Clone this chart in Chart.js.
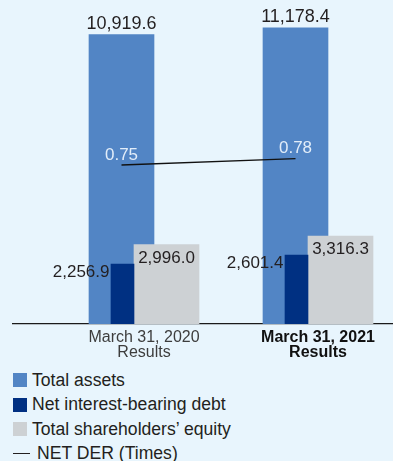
<!DOCTYPE html>
<html>
<head>
<meta charset="utf-8">
<script src="https://cdn.jsdelivr.net/npm/chart.js@4.4.1/dist/chart.umd.min.js"></script>
<style>
  html, body { margin: 0; padding: 0; background: #e8f5fd; }
  #wrap { position: relative; width: 393px; height: 461px; overflow: hidden; background: #e8f5fd;
          font-family: "Liberation Sans", Arial, Helvetica, sans-serif; color: #231f20; }
  #c { position: absolute; left: 0; top: 0; }
  #legend { position: absolute; left: 13px; top: 373px; }
  .row { position: relative; height: 14px; margin-bottom: 10.5px; white-space: nowrap; }
  .sw { position: absolute; left: 0; top: 0; width: 14px; height: 14px; }
  .ln { position: absolute; left: 0; top: 6px; width: 17px; height: 0; border-top: 1.3px solid #231f20; }
  .tx { position: absolute; left: 19px; top: -2.5px; font-size: 17.6px; line-height: 19px; }
  .row.line .tx { left: 24px; }
</style>
</head>
<body>
<div id="wrap">
  <canvas id="c" width="393" height="364" style="width:393px;height:364px"></canvas>
  <div id="legend"></div>
</div>
<script>
// Balance sheet figures (billions of yen) and the net debt-to-equity ratio
const categories = [['March 31, 2020', 'Results'], ['March 31, 2021', 'Results']];
const totalAssets = [10919.6, 11178.4];
const netDebt = [2256.9, 2601.4];
const shareholdersEquity = [2996.0, 3316.3];
const netDer = [0.75, 0.78];

const seriesNames = ['Total assets', 'Net interest-bearing debt', 'Total shareholders\u2019 equity', 'NET DER (Times)'];
const COLORS = { assets: '#5285c5', debt: '#003082', equity: '#cdd1d4', der: '#111111', text: '#231f20' };
const FONT = '"Liberation Sans", Arial, Helvetica, sans-serif';

// Horizontal layout: one unit on the x scale is the spacing between the two periods.
const UNIT_PX = 174;                 // pixels per period
const WIDE_BAR = 65, NARROW_BAR = 23, DEBT_INSET = 22;
const CLUSTER = DEBT_INSET + NARROW_BAR + WIDE_BAR;   // total width of one period's bars
const X_MIN = -131 / UNIT_PX, X_MAX = 249 / UNIT_PX;
const offAssets = (-CLUSTER / 2 + WIDE_BAR / 2) / UNIT_PX;
const offDebt = (-CLUSTER / 2 + DEBT_INSET + NARROW_BAR / 2) / UNIT_PX;
const offEquity = (CLUSTER / 2 - WIDE_BAR / 2) / UNIT_PX;

const at = (vals, off) => vals.map((v, i) => ({ x: i + off, y: v }));

const fmtAmount = v => v.toLocaleString('en-US', { minimumFractionDigits: 1, maximumFractionDigits: 1 });

// Draws the figures next to each bar and above each ratio point
const valueLabels = {
  id: 'valueLabels',
  afterDatasetsDraw(chart) {
    const ctx = chart.ctx;
    ctx.save();
    chart.data.datasets.forEach((ds, di) => {
      const meta = chart.getDatasetMeta(di);
      meta.data.forEach((el, i) => {
        const v = ds.data[i].y;
        ctx.textBaseline = 'alphabetic';
        ctx.fillStyle = COLORS.text;
        if (ds.labelAt === 'above') {
          ctx.font = '18px ' + FONT;
          ctx.textAlign = 'center';
          ctx.fillText(fmtAmount(v), el.x, el.y - 5.5);
        } else if (ds.labelAt === 'left') {
          ctx.font = '17px ' + FONT;
          ctx.textAlign = 'right';
          ctx.fillText(fmtAmount(v), el.x - el.width / 2 - 1.5, el.y + 13);
        } else if (ds.labelAt === 'inside') {
          ctx.font = '17px ' + FONT;
          ctx.textAlign = 'center';
          ctx.fillText(fmtAmount(v), el.x, el.y + 18);
        } else if (ds.labelAt === 'point') {
          ctx.font = '17px ' + FONT;
          ctx.textAlign = 'center';
          ctx.fillStyle = '#e2edf9';
          ctx.fillText(v.toFixed(2), el.x, el.y - 5.5);
        }
      });
    });
    ctx.restore();
  }
};

const chart = new Chart(document.getElementById('c'), {
  type: 'bar',
  data: {
    datasets: [
      { type: 'bar', label: seriesNames[0], data: at(totalAssets, offAssets), backgroundColor: COLORS.assets,
        barThickness: WIDE_BAR, grouped: false, order: 3, yAxisID: 'y', labelAt: 'above' },
      { type: 'bar', label: seriesNames[1], data: at(netDebt, offDebt), backgroundColor: COLORS.debt,
        barThickness: NARROW_BAR, grouped: false, order: 1, yAxisID: 'y', labelAt: 'left' },
      { type: 'bar', label: seriesNames[2], data: at(shareholdersEquity, offEquity), backgroundColor: COLORS.equity,
        barThickness: WIDE_BAR, grouped: false, order: 2, yAxisID: 'y', labelAt: 'inside' },
      { type: 'line', label: seriesNames[3], data: at(netDer, offAssets), borderColor: COLORS.der, borderWidth: 1.3,
        pointRadius: 0, fill: false, tension: 0, order: 0, yAxisID: 'y2', labelAt: 'point' }
    ]
  },
  options: {
    responsive: false,
    animation: false,
    devicePixelRatio: 1,
    layout: { padding: { left: 13, right: 0, top: 6, bottom: 0 } },
    plugins: { legend: { display: false }, tooltip: { enabled: false } },
    scales: {
      x: {
        type: 'linear', min: X_MIN, max: X_MAX, offset: false,
        grid: { display: false, drawTicks: false },
        border: { display: true, color: '#1a1a1a', width: 1.3 },
        afterBuildTicks: axis => { axis.ticks = categories.map((c, i) => ({ value: i })); },
        afterFit: axis => { axis.height = 40; },
        ticks: {
          autoSkip: false, maxRotation: 0, padding: 5.5,
          callback: (value, index) => categories[index],
          font: ctx => ({ family: FONT, size: 16, lineHeight: 0.95, weight: ctx.index === 1 ? 'bold' : 'normal' }),
          color: ctx => ctx.index === 1 ? '#111111' : '#3d3d3d'
        }
      },
      y: { display: false, min: 0, max: 12000 },
      y2: { display: false, min: 0, max: 1.5, position: 'right' }
    }
  },
  plugins: [valueLabels]
});

// Legend built from the chart's own datasets
const legend = document.getElementById('legend');
chart.data.datasets.forEach(ds => {
  const row = document.createElement('div');
  row.className = 'row' + (ds.type === 'line' ? ' line' : '');
  const mark = document.createElement('div');
  if (ds.type === 'line') {
    mark.className = 'ln';
  } else {
    mark.className = 'sw';
    mark.style.background = ds.backgroundColor;
  }
  const tx = document.createElement('div');
  tx.className = 'tx';
  tx.textContent = ds.label;
  row.appendChild(mark);
  row.appendChild(tx);
  legend.appendChild(row);
});
</script>
</body>
</html>
